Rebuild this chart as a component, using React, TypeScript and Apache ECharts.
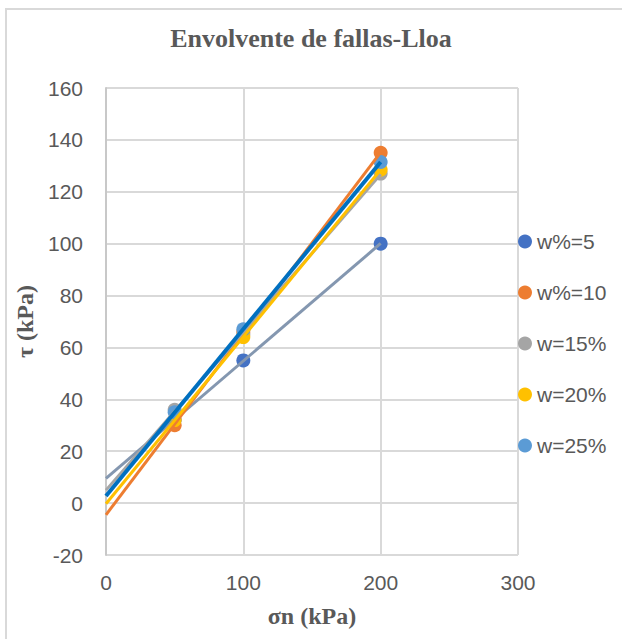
import React, { useEffect, useRef } from "react";
import * as echarts from "echarts";

const seriesNames = ["w%=5", "w%=10", "w=15%", "w=20%", "w=25%"];
const sigmaN = [50, 100, 200];
const tauW5 = [32, 55, 100];
const tauW10 = [30, 66, 135];
const tauW15 = [36, 65, 127];
const tauW20 = [32, 64, 128.5];
const tauW25 = [35, 67, 131.5];
const trendRange = [0, 200];
const xTicks = { min: 0, max: 300, interval: 100 };
const yTicks = { min: -20, max: 160, interval: 20 };

const markerColors = ["#4472C4", "#ED7D31", "#A5A5A5", "#FFC000", "#5B9BD5"];
const trendColors = ["#8497B0", "#ED7D31", "#A5A5A5", "#FFC000", "#0070C0"];
const trendWidths = [3, 3, 3, 3, 4];

function linearFit(xs: number[], ys: number[]) {
  const n = xs.length;
  const mx = xs.reduce((a, b) => a + b, 0) / n;
  const my = ys.reduce((a, b) => a + b, 0) / n;
  let sxy = 0;
  let sxx = 0;
  for (let i = 0; i < n; i++) {
    sxy += (xs[i] - mx) * (ys[i] - my);
    sxx += (xs[i] - mx) * (xs[i] - mx);
  }
  const slope = sxy / sxx;
  return { slope, intercept: my - slope * mx };
}

export default function App() {
  const ref = useRef<HTMLDivElement>(null);
  useEffect(() => {
    if (!ref.current) return;
    const chart = echarts.init(ref.current, null, { renderer: "svg" });
    const allTau = [tauW5, tauW10, tauW15, tauW20, tauW25];
    const labelFont = "'Liberation Sans', Arial, sans-serif";
    const serifFont = "'Liberation Serif', 'Times New Roman', serif";

    const scatterSeries = allTau.map((ys, i) => ({
      name: seriesNames[i],
      type: "scatter",
      symbol: "circle",
      symbolSize: 14,
      itemStyle: { color: markerColors[i], opacity: 1 },
      data: sigmaN.map((x, j) => [x, ys[j]]),
      z: 2,
    }));

    const trendSeries = allTau.map((ys, i) => {
      const f = linearFit(sigmaN, ys);
      return {
        name: seriesNames[i] + " trend",
        type: "line",
        showSymbol: false,
        symbol: "none",
        silent: true,
        lineStyle: { color: trendColors[i], width: trendWidths[i] },
        data: trendRange.map((x) => [x, f.intercept + f.slope * x]),
        z: 3,
      };
    });

    chart.setOption({
      animation: false,
      backgroundColor: "#ffffff",
      title: {
        text: "Envolvente de fallas-Lloa",
        left: "center",
        top: 25,
        padding: 0,
        textStyle: {
          fontFamily: serifFont,
          fontWeight: "bold",
          fontSize: 26,
          color: "#595959",
        },
      },
      graphic: [
        {
          type: "rect",
          shape: { x: 6, y: 9, width: 640, height: 660 },
          style: { fill: "none", stroke: "#D9D9D9", lineWidth: 2 },
          silent: true,
        },
      ],
      legend: {
        orient: "vertical",
        left: 513,
        top: 226,
        itemWidth: 14,
        itemHeight: 14,
        itemGap: 30,
        icon: "circle",
        data: seriesNames,
        textStyle: {
          fontFamily: labelFont,
          fontSize: 21,
          lineHeight: 21,
          color: "#595959",
        },
      },
      grid: { left: 106, top: 88, width: 412, height: 467, containLabel: false },
      xAxis: {
        type: "value",
        min: xTicks.min,
        max: xTicks.max,
        interval: xTicks.interval,
        name: "σn (kPa)",
        nameLocation: "middle",
        nameGap: 49,
        nameTextStyle: {
          fontFamily: serifFont,
          fontWeight: "bold",
          fontSize: 24,
          color: "#595959",
        },
        axisLine: { show: false },
        axisTick: { show: false },
        axisLabel: {
          margin: 17,
          fontFamily: labelFont,
          fontSize: 21,
          color: "#595959",
        },
        splitLine: { show: true, lineStyle: { color: "#D9D9D9", width: 2 } },
      },
      yAxis: {
        type: "value",
        min: yTicks.min,
        max: yTicks.max,
        interval: yTicks.interval,
        name: "τ (kPa)",
        nameLocation: "middle",
        nameGap: 63,
        nameTextStyle: {
          fontFamily: serifFont,
          fontWeight: "bold",
          fontSize: 24,
          color: "#595959",
        },
        axisLine: { show: true, lineStyle: { color: "#C8C8C8", width: 2 } },
        axisTick: { show: false },
        axisLabel: {
          margin: 23,
          fontFamily: labelFont,
          fontSize: 21,
          color: "#595959",
        },
        splitLine: { show: true, lineStyle: { color: "#D9D9D9", width: 2 } },
      },
      series: [...scatterSeries, ...trendSeries],
    });
    return () => chart.dispose();
  }, []);

  return (
    <div
      ref={ref}
      style={{ position: "absolute", left: 0, top: 0, width: 622, height: 639 }}
    />
  );
}
